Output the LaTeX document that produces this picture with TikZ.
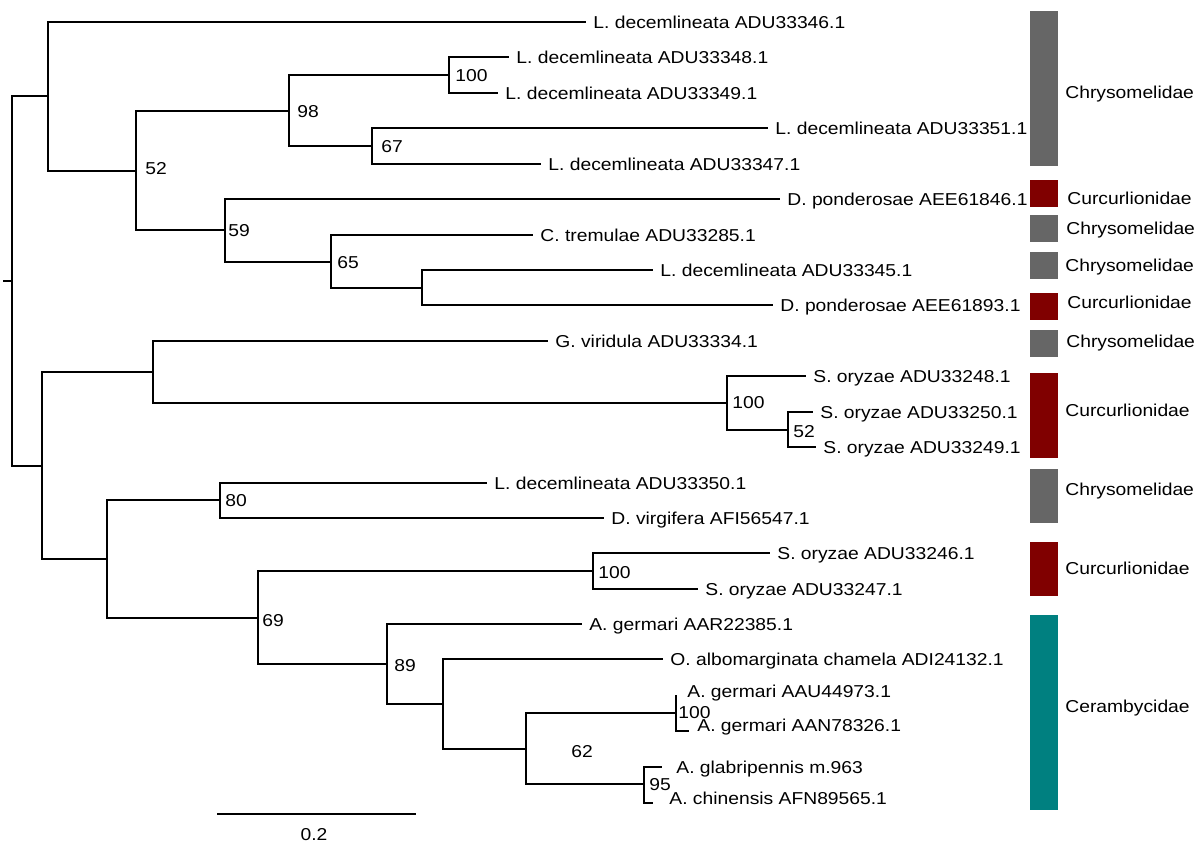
\documentclass[tikz,border=0pt]{standalone}
\usepackage{xcolor}
\usepackage{fontspec}
\setmainfont{Liberation Sans}[FakeStretch=1.12]
\usepackage{tikz}
\definecolor{chrysgrey}{HTML}{666666}
\definecolor{curcred}{HTML}{800000}
\definecolor{ceramteal}{HTML}{008080}

\begin{document}
\begin{tikzpicture}[x=0.02cm, y=-0.02cm,
  every node/.style={font=\fontsize{9.8}{11}\selectfont, text height=7pt, text depth=0pt},
  leaf/.style={anchor=west, inner xsep=4pt, inner ysep=0pt},
  boot/.style={anchor=west, inner sep=0pt},
  family/.style={anchor=west, inner sep=0pt},
  branch/.style={line width=0.8pt}]
\useasboundingbox (0,0) rectangle (1200,847);
\newcommand{\barL}{1030} % left edge of family bars
\newcommand{\barR}{1058} % right edge of family bars

% internal nodes of the tree
\coordinate (stub)  at (3, 281);
\coordinate (root)  at (12, 281);
\coordinate (nA)    at (48, 96);
\coordinate (n52)   at (136, 171);
\coordinate (n98)   at (289, 111);
\coordinate (n100a) at (449, 75);
\coordinate (n67)   at (372, 146);
\coordinate (n59)   at (225, 230);
\coordinate (n65)   at (331, 262);
\coordinate (n65b)  at (422, 288);
\coordinate (nB)    at (42, 466);
\coordinate (nG)    at (153, 372);
\coordinate (n100b) at (727, 403);
\coordinate (n52b)  at (788, 430);
\coordinate (nC)    at (107, 559);
\coordinate (n80)   at (220, 500);
\coordinate (n69)   at (258, 618);
\coordinate (n100c) at (593, 571);
\coordinate (n89)   at (387, 664);
\coordinate (nD)    at (443, 704);
\coordinate (n62)   at (526, 749);
\coordinate (n100d) at (676, 713);
\coordinate (n95)   at (644, 784);
%
\coordinate (tip20) at (676, 695); % zero length branch
\coordinate (tip21) at (689, 731);
\coordinate (tip22) at (662, 767);
\coordinate (tip23) at (653, 803);

% leaves
\node[leaf] (t1)  at (586, 22)  {L. decemlineata ADU33346.1};
\node[leaf] (t2)  at (509, 57)  {L. decemlineata ADU33348.1};
\node[leaf] (t3)  at (498, 93)  {L. decemlineata ADU33349.1};
\node[leaf] (t4)  at (768, 128) {L. decemlineata ADU33351.1};
\node[leaf] (t5)  at (541, 164) {L. decemlineata ADU33347.1};
\node[leaf] (t6)  at (780, 199) {D. ponderosae AEE61846.1};
\node[leaf] (t7)  at (533, 235) {C. tremulae ADU33285.1};
\node[leaf] (t8)  at (653, 270) {L. decemlineata ADU33345.1};
\node[leaf] (t9)  at (773, 305) {D. ponderosae AEE61893.1};
\node[leaf] (t10) at (548, 341) {G. viridula ADU33334.1};
\node[leaf] (t11) at (806, 376) {S. oryzae ADU33248.1};
\node[leaf] (t12) at (813, 412) {S. oryzae ADU33250.1};
\node[leaf] (t13) at (816, 447) {S. oryzae ADU33249.1};
\node[leaf] (t14) at (487, 483) {L. decemlineata ADU33350.1};
\node[leaf] (t15) at (604, 518) {D. virgifera AFI56547.1};
\node[leaf] (t16) at (770, 553) {S. oryzae ADU33246.1};
\node[leaf] (t17) at (698, 589) {S. oryzae ADU33247.1};
\node[leaf] (t18) at (582, 624) {A. germari AAR22385.1};
\node[leaf] (t19) at (663, 659) {O. albomarginata chamela ADI24132.1};
\node[leaf] (t20) at (680, 691) {A. germari AAU44973.1};
\node[leaf] (t21) at (690, 725) {A. germari AAN78326.1};
\node[leaf] (t22) at (669, 767) {A. glabripennis m.963};
\node[leaf] (t23) at (662, 798) {A. chinensis AFN89565.1};

% branches
\draw[branch] (stub) -- (root);
\draw[branch] (root) |- (nA);
\draw[branch] (root) |- (nB);
\draw[branch] (nA) |- (t1.west);
\draw[branch] (nA) |- (n52);
\draw[branch] (n52) |- (n98);
\draw[branch] (n52) |- (n59);
\draw[branch] (n98) |- (n100a);
\draw[branch] (n98) |- (n67);
\draw[branch] (n100a) |- (t2.west);
\draw[branch] (n100a) |- (t3.west);
\draw[branch] (n67) |- (t4.west);
\draw[branch] (n67) |- (t5.west);
\draw[branch] (n59) |- (t6.west);
\draw[branch] (n59) |- (n65);
\draw[branch] (n65) |- (t7.west);
\draw[branch] (n65) |- (n65b);
\draw[branch] (n65b) |- (t8.west);
\draw[branch] (n65b) |- (t9.west);
%
\draw[branch] (nB) |- (nG);
\draw[branch] (nB) |- (nC);
\draw[branch] (nG) |- (t10.west);
\draw[branch] (nG) |- (n100b);
\draw[branch] (n100b) |- (t11.west);
\draw[branch] (n100b) |- (n52b);
\draw[branch] (n52b) |- (t12.west);
\draw[branch] (n52b) |- (t13.west);
\draw[branch] (nC) |- (n80);
\draw[branch] (nC) |- (n69);
\draw[branch] (n80) |- (t14.west);
\draw[branch] (n80) |- (t15.west);
\draw[branch] (n69) |- (n100c);
\draw[branch] (n69) |- (n89);
\draw[branch] (n100c) |- (t16.west);
\draw[branch] (n100c) |- (t17.west);
\draw[branch] (n89) |- (t18.west);
\draw[branch] (n89) |- (nD);
\draw[branch] (nD) |- (t19.west);
\draw[branch] (nD) |- (n62);
\draw[branch] (n62) |- (n100d);
\draw[branch] (n62) |- (n95);
\draw[branch] (n100d) |- (tip20);
\draw[branch] (n100d) |- (tip21);
\draw[branch] (n95) |- (tip22);
\draw[branch] (n95) |- (tip23);

% bootstrap values
\node[boot] (b52)   at (145, 168) {52};
\node[boot] (b98)   at (297, 111) {98};
\node[boot] (b100a) at (455, 75)  {100};
\node[boot] (b67)   at (381, 146) {67};
\node[boot] (b59)   at (228, 230) {59};
\node[boot] (b65)   at (337, 262) {65};
\node[boot] (b100b) at (732, 402) {100};
\node[boot] (b52b)  at (793, 431) {52};
\node[boot] (b80)   at (225, 500) {80};
\node[boot] (b69)   at (262, 620) {69};
\node[boot] (b100c) at (598, 572) {100};
\node[boot] (b89)   at (394, 665) {89};
\node[boot] (b62)   at (571, 751) {62};
\node[boot] (b100d) at (678, 712) {100};
\node[boot] (b95)   at (649, 784) {95};

% scale bar
\coordinate (sbL) at (217, 814);
\coordinate (sbR) at (416, 814);
\draw[branch] (sbL) -- (sbR);
\node[inner sep=0pt] (sb) at (314, 834) {0.2};

% family bars
\fill[chrysgrey] (\barL, 11)  rectangle (\barR, 166);
\fill[curcred]   (\barL, 180) rectangle (\barR, 207);
\fill[chrysgrey] (\barL, 215) rectangle (\barR, 242);
\fill[chrysgrey] (\barL, 252) rectangle (\barR, 279);
\fill[curcred]   (\barL, 293) rectangle (\barR, 320);
\fill[chrysgrey] (\barL, 330) rectangle (\barR, 357);
\fill[curcred]   (\barL, 373) rectangle (\barR, 458);
\fill[chrysgrey] (\barL, 469) rectangle (\barR, 523);
\fill[curcred]   (\barL, 542) rectangle (\barR, 596);
\fill[ceramteal] (\barL, 615) rectangle (\barR, 810);

\node[family] (f1)  at (1065, 92)  {Chrysomelidae};
\node[family] (f2)  at (1067, 198) {Curcurlionidae};
\node[family] (f3)  at (1066, 228) {Chrysomelidae};
\node[family] (f4)  at (1065, 265) {Chrysomelidae};
\node[family] (f5)  at (1067, 302) {Curcurlionidae};
\node[family] (f6)  at (1066, 341) {Chrysomelidae};
\node[family] (f7)  at (1065, 410) {Curcurlionidae};
\node[family] (f8)  at (1065, 489) {Chrysomelidae};
\node[family] (f9)  at (1065, 568) {Curcurlionidae};
\node[family] (f10) at (1065, 706) {Cerambycidae};
\end{tikzpicture}
\end{document}
